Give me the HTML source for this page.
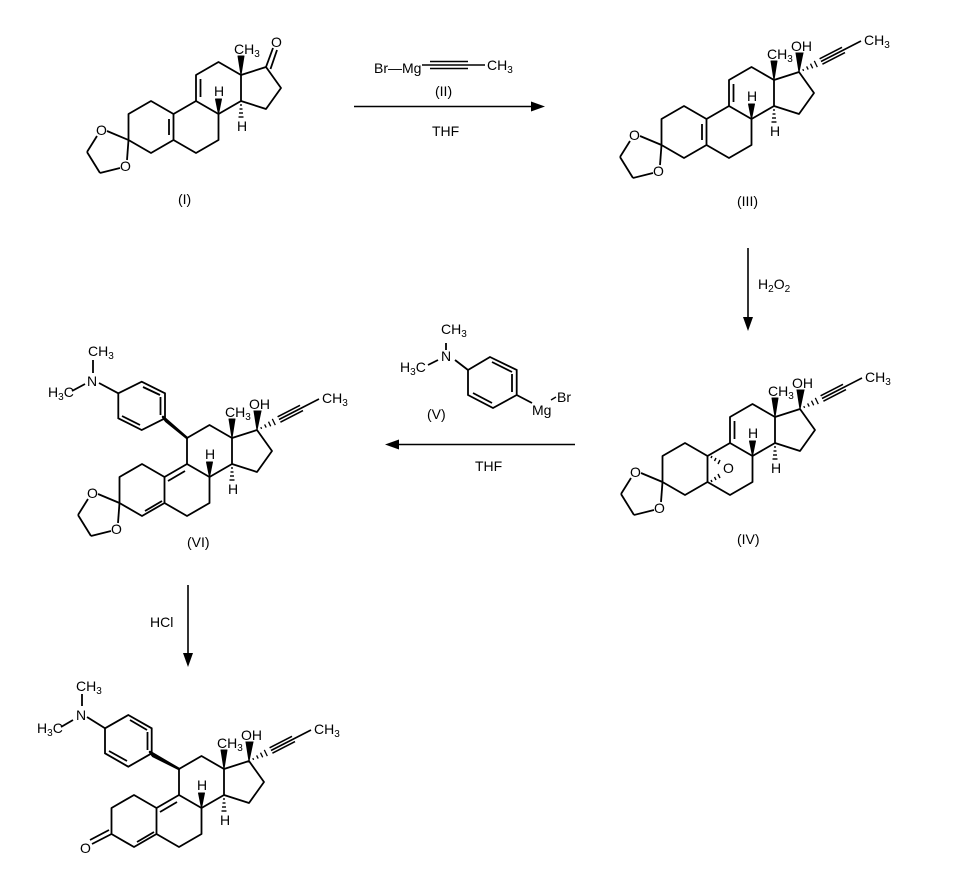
<!DOCTYPE html>
<html><head><meta charset="utf-8"><style>
html,body{margin:0;padding:0;background:#fff;}
svg{display:block;}
text{font-family:"Liberation Sans",sans-serif;font-size:14px;fill:#000;}
.s{font-size:10px;}
</style></head><body>
<svg width="960" height="874" viewBox="0 0 960 874" xmlns="http://www.w3.org/2000/svg">
<defs>
<g id="core" stroke="#000" stroke-width="1.8" fill="none" stroke-linejoin="round">
  <polygon points="151,101 173.5,114 173.5,140 151,153 128.5,140 128.5,114"/>
  <polyline points="173.5,114 196,101 218.5,114 218.5,140 196,153 173.5,140"/>
  <polyline points="196,101 196,75 218.5,62 241,75 241,101 218.5,114"/>
  <polyline points="241,75 266,67 281,88 266,109 241,101"/>
  <polygon points="241,75 238,56 244,56" fill="#000" stroke-width="1"/>
  <polygon points="218.5,114 215.5,99 221.5,99" fill="#000" stroke-width="1"/>
  <g stroke-width="1.4">
    <line x1="240" y1="105" x2="242" y2="105"/>
    <line x1="239.5" y1="109" x2="242.5" y2="109"/>
    <line x1="239" y1="113" x2="243" y2="113"/>
    <line x1="238.5" y1="117" x2="243.5" y2="117"/>
  </g>
</g>
<g id="coretext">
  <text x="234" y="54">CH<tspan class="s" dy="3">3</tspan></text>
  <text x="214" y="96">H</text>
  <text x="237" y="131">H</text>
</g>
<g id="ketal" stroke="#000" stroke-width="1.8" fill="none">
  <line x1="128.5" y1="140" x2="107" y2="131"/>
  <line x1="97" y1="136" x2="87" y2="152"/>
  <line x1="87" y1="152" x2="100" y2="173"/>
  <line x1="100" y1="173" x2="120" y2="168"/>
  <line x1="128.5" y1="140" x2="127" y2="160"/>
</g>
<g id="ketaltext">
  <text x="96" y="135">O</text>
  <text x="120" y="171">O</text>
</g>
<g id="propynyl" stroke="#000" stroke-width="1.6" fill="none">
  <polygon points="266,67 263,48 270,48" fill="#000" stroke-width="1"/>
  <line x1="269.8" y1="64.1" x2="270.6" y2="65.9" stroke-width="1.3"/>
  <line x1="273.6" y1="61.4" x2="275.2" y2="64.6" stroke-width="1.3"/>
  <line x1="277.5" y1="58.7" x2="279.7" y2="63.3" stroke-width="1.3"/>
  <line x1="281.3" y1="55.9" x2="284.3" y2="62.1" stroke-width="1.3"/>
  <line x1="288" y1="56.5" x2="328" y2="36"/>
  <line x1="289.4" y1="59.2" x2="312" y2="47.6"/>
  <line x1="286.6" y1="53.8" x2="309" y2="42.3"/>
</g>
<g id="propynyltext">
  <text x="258" y="46">OH</text>
  <text x="331" y="40">CH<tspan class="s" dy="3">3</tspan></text>
</g>
</defs>

<!-- (I) -->
<use href="#core"/>
<use href="#coretext"/>
<use href="#ketal"/>
<use href="#ketaltext"/>
<g stroke="#000" stroke-width="1.8">
  <line x1="169" y1="119" x2="169" y2="135"/>
  <line x1="200.5" y1="79" x2="200.5" y2="97"/>
  <line x1="266" y1="67" x2="273" y2="48"/>
  <line x1="270.5" y1="69" x2="277" y2="50"/>
</g>
<text x="271" y="47">O</text>
<text x="178" y="204">(I)</text>

<!-- Arrow 1 -->
<text x="374" y="73">Br—Mg</text>
<g stroke="#000" stroke-width="1.6">
  <line x1="430" y1="61.5" x2="468" y2="61.5"/>
  <line x1="422" y1="65" x2="485" y2="65"/>
  <line x1="430" y1="68.5" x2="468" y2="68.5"/>
  <line x1="354" y1="106.5" x2="535" y2="106.5"/>
</g>
<polygon points="545,106.5 531,101.5 531,111.5" fill="#000"/>
<text x="487" y="70">CH<tspan class="s" dy="3">3</tspan></text>
<text x="435" y="96">(II)</text>
<text x="432" y="136">THF</text>

<!-- (III) -->
<g transform="translate(533,5)">
  <use href="#core"/><use href="#coretext"/>
  <use href="#ketal"/><use href="#ketaltext"/>
  <use href="#propynyl"/><use href="#propynyltext"/>
  <g stroke="#000" stroke-width="1.8">
    <line x1="169" y1="119" x2="169" y2="135"/>
    <line x1="200.5" y1="79" x2="200.5" y2="97"/>
  </g>
</g>
<text x="737" y="206">(III)</text>

<!-- Arrow 2 -->
<line x1="748" y1="248" x2="748" y2="320" stroke="#000" stroke-width="1.6"/>
<polygon points="748,331 743,317 753,317" fill="#000"/>
<text x="758" y="289">H<tspan class="s" dy="3">2</tspan><tspan dy="-3">O</tspan><tspan class="s" dy="3">2</tspan></text>

<!-- (IV) -->
<g transform="translate(534,342)">
  <use href="#core"/><use href="#coretext"/>
  <use href="#ketal"/><use href="#ketaltext"/>
  <use href="#propynyl"/><use href="#propynyltext"/>
  <g stroke="#000" stroke-width="1.4">
    <line x1="200.5" y1="79" x2="200.5" y2="97" stroke-width="1.8"/>
    <line x1="177" y1="116" x2="178" y2="114"/>
    <line x1="180.5" y1="119" x2="182" y2="116"/>
    <line x1="184" y1="122" x2="186" y2="118"/>
    <line x1="177" y1="138" x2="178" y2="140"/>
    <line x1="180.5" y1="135" x2="182" y2="138"/>
    <line x1="184" y1="132" x2="186" y2="136"/>
  </g>
  <text x="189" y="131">O</text>
</g>
<text x="737" y="544">(IV)</text>

<!-- Reagent V and arrow 3 -->
<g stroke="#000" stroke-width="1.8" fill="none">
  <polygon points="490,357 516.7,370 516.7,395 493,408 468,395 468,370"/>
  <line x1="492" y1="362" x2="512" y2="372"/>
  <line x1="512" y1="374" x2="512" y2="392"/>
  <line x1="473" y1="393" x2="492" y2="403"/>
  <line x1="468" y1="370" x2="455" y2="360"/>
  <line x1="446" y1="343" x2="446" y2="350"/>
  <line x1="428" y1="365" x2="438" y2="360"/>
  <line x1="516.7" y1="395" x2="532" y2="403"/>
  <line x1="551" y1="400" x2="556" y2="397" stroke-width="1.4"/>
  <line x1="575" y1="444.5" x2="396" y2="444.5" stroke-width="1.6"/>
</g>
<polygon points="385,444.5 399,439.5 399,449.5" fill="#000"/>
<text x="441" y="334">CH<tspan class="s" dy="3">3</tspan></text>
<text x="441" y="361">N</text>
<text x="400" y="372">H<tspan class="s" dy="3">3</tspan><tspan dy="-3">C</tspan></text>
<text x="557" y="402">Br</text>
<text x="532" y="415">Mg</text>
<text x="427" y="419">(V)</text>
<text x="475" y="471">THF</text>

<!-- (VI) -->
<g transform="translate(-9,363)">
  <use href="#core"/><use href="#coretext"/>
  <use href="#ketal"/><use href="#ketaltext"/>
  <use href="#propynyl"/><use href="#propynyltext"/>
  <g stroke="#000" stroke-width="1.8">
    <line x1="177" y1="118" x2="194" y2="108"/>
    <line x1="154" y1="148" x2="171" y2="138"/>
  </g>
</g>
<g stroke="#000" stroke-width="1.8" fill="none">
  <polygon points="118.3,393.3 141.7,381.7 165,393.3 165,418.3 141.7,430 118.3,418.3"/>
  <line x1="143" y1="387" x2="160" y2="395"/>
  <line x1="160.5" y1="397" x2="160.5" y2="415"/>
  <line x1="122" y1="416" x2="140" y2="425"/>
  <line x1="118.3" y1="393.3" x2="99" y2="383"/>
  <line x1="93" y1="373" x2="93" y2="360"/>
  <line x1="72" y1="391" x2="85" y2="384"/>
</g>
<polygon points="187,438 163,417 166,421" fill="#000" stroke="#000" stroke-width="2.5" stroke-linejoin="round"/>
<text x="88" y="356">CH<tspan class="s" dy="3">3</tspan></text>
<text x="87" y="386">N</text>
<text x="48" y="397">H<tspan class="s" dy="3">3</tspan><tspan dy="-3">C</tspan></text>
<text x="187" y="547">(VI)</text>

<!-- Arrow 4 -->
<line x1="188" y1="585" x2="188" y2="656" stroke="#000" stroke-width="1.6"/>
<polygon points="188,667 183,653 193,653" fill="#000"/>
<text x="150" y="627">HCl</text>

<!-- Final product -->
<g transform="translate(-17,694)">
  <use href="#core"/><use href="#coretext"/>
  <use href="#propynyl"/><use href="#propynyltext"/>
  <g stroke="#000" stroke-width="1.8">
    <line x1="177" y1="118" x2="194" y2="108"/>
    <line x1="154" y1="148" x2="171" y2="138"/>
    <line x1="128.5" y1="140" x2="109" y2="150"/>
    <line x1="126" y1="136" x2="107" y2="146"/>
  </g>
  <text x="97" y="159">O</text>
</g>
<g stroke="#000" stroke-width="1.8" fill="none">
  <polygon points="105,728.3 128.3,715 151.7,728.3 151.7,753.3 128.3,766.7 105,753.3"/>
  <line x1="130" y1="720" x2="147" y2="730"/>
  <line x1="147.5" y1="732" x2="147.5" y2="750"/>
  <line x1="109" y1="751" x2="127" y2="761"/>
  <line x1="105" y1="728.3" x2="87" y2="717"/>
  <line x1="82" y1="706" x2="82" y2="694"/>
  <line x1="61" y1="727" x2="73" y2="720"/>
</g>
<polygon points="179,769 150,752 153,756" fill="#000" stroke="#000" stroke-width="2.5" stroke-linejoin="round"/>
<text x="76" y="691">CH<tspan class="s" dy="3">3</tspan></text>
<text x="76" y="720">N</text>
<text x="37" y="733">H<tspan class="s" dy="3">3</tspan><tspan dy="-3">C</tspan></text>
</svg>
</body></html>
